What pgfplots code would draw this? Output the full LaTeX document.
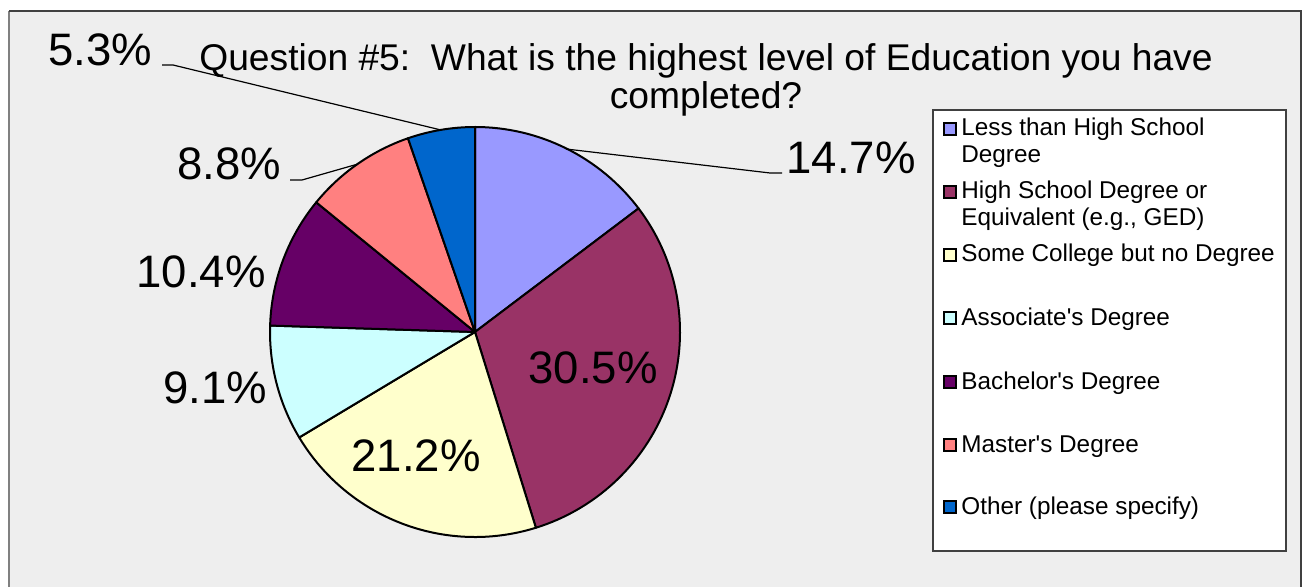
\documentclass[border=0pt]{standalone}
\usepackage{fontspec}
\setmainfont{Liberation Sans}
\newfontfamily\legfont{Liberation Sans}
\usepackage{pgfplots}
\usepackage{pgfplotstable}
\pgfplotsset{compat=1.18}
\definecolor{cA}{HTML}{9999FF}
\definecolor{cB}{HTML}{993366}
\definecolor{cC}{HTML}{FFFFCC}
\definecolor{cD}{HTML}{CCFFFF}
\definecolor{cE}{HTML}{660066}
\definecolor{cF}{HTML}{FF8080}
\definecolor{cG}{HTML}{0066CC}
\definecolor{bg}{HTML}{EEEEEE}
\definecolor{frameL}{HTML}{808080}
\definecolor{frameD}{HTML}{404040}

\pgfplotstableread{
value color
14.7 cA
30.5 cB
21.2 cC
9.1 cD
10.4 cE
8.8 cF
5.3 cG
}\piedata

\begin{document}
\begin{tikzpicture}
\begin{axis}[
  width=652pt, height=293.5pt, scale only axis,
  xmin=0, xmax=1304, ymin=0, ymax=587, y dir=reverse,
  hide axis, clip=false,
]
% background and frame
\fill[white] (axis cs:0,0) rectangle (axis cs:1304,587);
\fill[bg] (axis cs:9,11) rectangle (axis cs:1301,587);
\draw[frameL, line width=1pt] (axis cs:9,587) -- (axis cs:9,11);
\draw[frameD, line width=1pt] (axis cs:9,11) -- (axis cs:1301,11) -- (axis cs:1301,587);

% pie slices
\gdef\curang{90}
\pgfplotsforeachungrouped \i in {0,...,6}{%
  \pgfplotstablegetelem{\i}{value}\of\piedata
  \let\v\pgfplotsretval
  \pgfplotstablegetelem{\i}{color}\of\piedata
  \let\c\pgfplotsretval
  \pgfmathsetmacro\s{\curang}%
  \pgfmathsetmacro\e{\curang-3.6*\v}%
  \edef\temp{\noexpand\filldraw[fill=\c, draw=black, line width=1pt, line join=round] (axis cs:475,332) -- ++(\s:102.5pt) arc[start angle=\s, end angle=\e, radius=102.5pt] -- cycle;}%
  \temp
  \xdef\curang{\e}%
}

% leader lines
\draw[line width=0.6pt] (axis cs:162,65) -- (axis cs:173,65) -- (axis cs:441,130);
\draw[line width=0.6pt] (axis cs:290,180) -- (axis cs:302,180) -- (axis cs:358,164);
\draw[line width=0.6pt] (axis cs:566,149) -- (axis cs:770,173) -- (axis cs:782,173);

% data labels
\tikzset{lab/.style={anchor=base, inner sep=0pt, font=\fontsize{22.75}{27}\selectfont}}
\node[lab] at (axis cs:851,174) {14.7\%};
\node[lab] at (axis cs:593,383) {30.5\%};
\node[lab] at (axis cs:416,471) {21.2\%};
\node[lab] at (axis cs:215,403) {9.1\%};
\node[lab] at (axis cs:201,287) {10.4\%};
\node[lab] at (axis cs:229,180) {8.8\%};
\node[lab] at (axis cs:100,66) {5.3\%};

% title
\tikzset{ttl/.style={anchor=base, inner sep=0pt, font=\fontsize{18.6}{22}\selectfont}}
\node[ttl] at (axis cs:706,71) {Question \#5:\ \ What is the highest level of Education you have};
\node[ttl] at (axis cs:706,109) {completed?};

% legend
\filldraw[fill=white, draw=frameD, line width=0.6pt] (axis cs:933,110) rectangle (axis cs:1286,551);
\tikzset{leg/.style={anchor=base west, inner sep=0pt, font=\legfont\fontsize{12.15}{13.5}\selectfont}}
\filldraw[fill=cA, draw=black, line width=1pt] (axis cs:944,123) rectangle (axis cs:956,135);
\node[leg] at (axis cs:961,136) {Less than High School};
\node[leg] at (axis cs:961,163) {Degree};
\filldraw[fill=cB, draw=black, line width=1pt] (axis cs:944,186) rectangle (axis cs:956,198);
\node[leg] at (axis cs:961,199) {High School Degree or};
\node[leg] at (axis cs:961,226) {Equivalent (e.g., GED)};
\filldraw[fill=cC, draw=black, line width=1pt] (axis cs:944,249) rectangle (axis cs:956,261);
\node[leg] at (axis cs:961,262) {Some College but no Degree};
\filldraw[fill=cD, draw=black, line width=1pt] (axis cs:944,312) rectangle (axis cs:956,324);
\node[leg] at (axis cs:961,325) {Associate's Degree};
\filldraw[fill=cE, draw=black, line width=1pt] (axis cs:944,376) rectangle (axis cs:956,388);
\node[leg] at (axis cs:961,389) {Bachelor's Degree};
\filldraw[fill=cF, draw=black, line width=1pt] (axis cs:944,439) rectangle (axis cs:956,451);
\node[leg] at (axis cs:961,452) {Master's Degree};
\filldraw[fill=cG, draw=black, line width=1pt] (axis cs:944,501) rectangle (axis cs:956,513);
\node[leg] at (axis cs:961,514) {Other (please specify)};
\end{axis}
\pgfresetboundingbox
\path[use as bounding box] (current axis.south west) rectangle (current axis.north east);
\end{tikzpicture}
\end{document}
